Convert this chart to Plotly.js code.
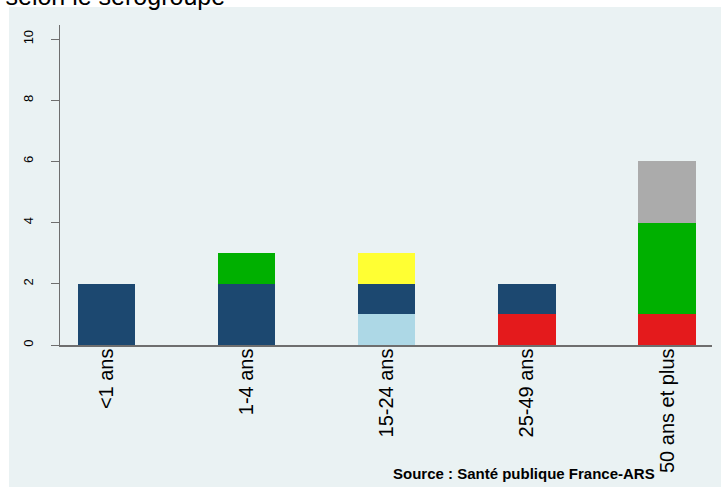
<!DOCTYPE html>
<html>
<head>
<meta charset="utf-8">
<script src="https://cdn.plot.ly/plotly-3.0.1.min.js"></script>
<style>
  body { margin: 0; padding: 0; background: #ffffff; }
  #graph { width: 721px; height: 487px; }
</style>
</head>
<body>
<div id="graph"></div>
<script>
// classes d'age
var ages = ['<1 ans', '1-4 ans', '15-24 ans', '25-49 ans', '50 ans et plus'];

// nombre de cas par serogroupe (ordre d'empilement, du bas vers le haut)
var nonDetermine = [0, 0, 1, 0, 0];
var serogroupeW = [0, 0, 0, 1, 1];
var serogroupeB = [2, 2, 1, 1, 0];
var serogroupeC = [0, 1, 0, 0, 3];
var serogroupeY = [0, 0, 1, 0, 0];
var autres = [0, 0, 0, 0, 2];

var yTicks = [0, 2, 4, 6, 8, 10];

function trace(name, values, color) {
    return {
        type: 'bar',
        name: name,
        x: ages,
        y: values,
        width: 0.41,
        marker: { color: color, line: { width: 0 } },
        hoverinfo: 'x+y+name'
    };
}

var data = [
    trace('Non déterminé', nonDetermine, '#add8e6'),
    trace('W', serogroupeW, '#e41a1c'),
    trace('B', serogroupeB, '#1c4870'),
    trace('C', serogroupeC, '#00b000'),
    trace('Y', serogroupeY, '#ffff33'),
    trace('Autres', autres, '#ababab')
];

var layout = {
    width: 721,
    height: 487,
    barmode: 'stack',
    showlegend: false,
    paper_bgcolor: '#ffffff',
    plot_bgcolor: '#ffffff',
    margin: { l: 60, r: 9, t: 25, b: 142, pad: 0 },
    font: { family: 'Liberation Sans, Arial, sans-serif', color: '#000000' },
    xaxis: {
        type: 'category',
        range: [-0.33, 4.32],
        tickangle: -90,
        tickfont: { size: 20 },
        ticks: '',
        ticklabelstandoff: -6,
        showline: true,
        linecolor: '#6e6e6e',
        linewidth: 1.5,
        showgrid: false,
        fixedrange: true
    },
    yaxis: {
        range: [0, 10.46],
        tickvals: yTicks,
        ticktext: yTicks.map(String),
        tickangle: -90,
        tickfont: { size: 13 },
        ticks: 'outside',
        ticklen: 8,
        tickcolor: '#6e6e6e',
        ticklabelstandoff: 12,
        showline: true,
        linecolor: '#6e6e6e',
        linewidth: 1.5,
        showgrid: true,
        gridcolor: '#eaf2f3',
        gridwidth: 1,
        zeroline: false,
        fixedrange: true
    },
    shapes: [{
        type: 'rect',
        xref: 'paper', yref: 'paper',
        x0: -0.0782, x1: 1.02, y0: -0.45, y1: 1.0563,
        fillcolor: '#eaf2f3',
        line: { width: 0 },
        layer: 'below'
    }],
    annotations: [{
        text: "Répartition des cas d'IIM par classe d'âge selon le sérogroupe",
        xref: 'paper', yref: 'paper',
        x: 0.256, y: 1.041,
        xanchor: 'right', yanchor: 'bottom',
        showarrow: false,
        font: { size: 25, color: '#000000' }
    }, {
        text: '<b>Source : Santé publique France-ARS</b>',
        xref: 'paper', yref: 'paper',
        x: 0.9156, y: -0.403,
        xanchor: 'right', yanchor: 'middle',
        showarrow: false,
        font: { size: 15, color: '#000000' }
    }]
};

Plotly.newPlot('graph', data, layout, { displayModeBar: false, staticPlot: true });
</script>
</body>
</html>
